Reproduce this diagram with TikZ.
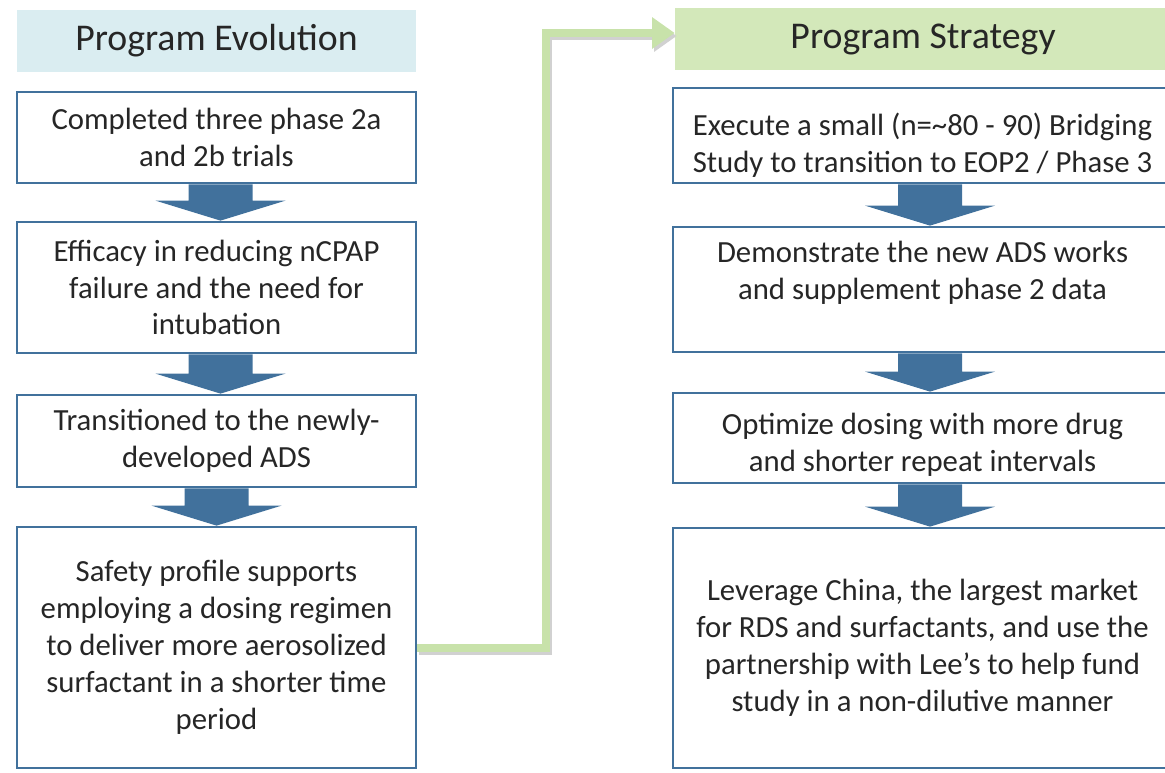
\documentclass[tikz,border=0pt]{standalone}
\usepackage{fontspec}
\setmainfont{Carlito}
\usetikzlibrary{arrows.meta,calc}

\definecolor{boxblue}{RGB}{65,113,156}
\definecolor{headblue}{RGB}{218,237,241}
\definecolor{headgreen}{RGB}{211,232,186}
\definecolor{linkgreen}{RGB}{200,226,170}
\definecolor{txtgray}{RGB}{38,38,38}

\tikzset{
  steptext/.style={text=txtgray, align=center, font=\fontsize{17.5}{21}\selectfont, inner sep=0pt},
  stepbox/.style={draw=boxblue, line width=1.6pt, fill=white, steptext},
  stratbox/.style={draw=boxblue, line width=1.6pt, fill=white, minimum width=10.6cm, inner sep=0pt},
  headbox/.style={fill=#1, text=txtgray, font=\fontsize{21.5}{26}\selectfont,
    minimum height=1.24cm, inner sep=0pt},
  blockarrow/.style={fill=boxblue},
  greenlink/.style={draw=linkgreen, line width=0.16cm, -{Triangle[length=0.45cm,width=0.6cm]}},
  linkshadow/.style={draw=black!18, line width=0.16cm, -{Triangle[length=0.45cm,width=0.6cm]},
    transform canvas={shift={(0.04cm,-0.06cm)}}}
}

\begin{document}
\begin{tikzpicture}[x=0.02cm,y=-0.02cm]
\useasboundingbox (0,0) rectangle (1165,772);

% headers
\node[headbox=headblue, minimum width=7.98cm] (h1) at (216.5,41) {Program Evolution};
\node[headbox=headgreen, minimum width=10.6cm,
  label={[text=txtgray, font=\fontsize{21.5}{26}\selectfont, xshift=-0.34cm]center:Program Strategy}]
  (h2) at (940,39) {};

% left column
\node[stepbox, minimum width=7.98cm, minimum height=1.82cm] (e1) at (216.5,137.5)
  {Completed three phase 2a\\ and 2b trials};
\node[stepbox, minimum width=7.98cm, minimum height=2.62cm] (e2) at (216.5,287.5)
  {Efficacy in reducing nCPAP\\ failure and the need for\\ intubation};
\node[stepbox, minimum width=7.98cm, minimum height=1.84cm] (e3) at (216.5,441)
  {Transitioned to the newly-\\ developed ADS};
\node[stepbox, minimum width=7.98cm, minimum height=4.82cm] (e4) at (216.5,647.5)
  {Safety profile supports\\ employing a dosing regimen\\ to deliver more aerosolized\\ surfactant in a shorter time\\ period};

% right column (boxes run off the right edge)
\node[stratbox, minimum height=1.9cm,
  label={[steptext, xshift=-0.31cm, yshift=-0.2cm]center:{Execute a small (n=\textasciitilde80 - 90) Bridging\\ Study to transition to EOP2 / Phase 3}}]
  (s1) at (938,135.5) {};
\node[stratbox, minimum height=2.5cm,
  label={[steptext, xshift=-0.31cm, yshift=0.33cm]center:{Demonstrate the new ADS works\\ and supplement phase 2 data}}]
  (s2) at (938,289.5) {};
\node[stratbox, minimum height=1.8cm,
  label={[steptext, xshift=-0.31cm, yshift=-0.14cm]center:{Optimize dosing with more drug\\ and shorter repeat intervals}}]
  (s3) at (938,438) {};
\node[stratbox, minimum height=4.8cm,
  label={[steptext, xshift=-0.31cm]center:{Leverage China, the largest market\\ for RDS and surfactants, and use the\\ partnership with Lee’s to help fund\\ study in a non-dilutive manner}}]
  (s4) at (938,648) {};

% block arrows between steps
\foreach \a/\b/\dx in {e1/e2/4,e2/e3/4,e3/e4/0,s1/s2/-8,s2/s3/-8,s3/s4/-8}
  \fill[blockarrow] ($(\a.south)+(-32+\dx,0)$) -- ($(\a.south)+(32+\dx,0)$)
    -- ($(\b.north)+(32+\dx,-20)$) -- ($(\b.north)+(65+\dx,-20)$) -- ($(\b.north)+(\dx,0)$)
    -- ($(\b.north)+(-65+\dx,-20)$) -- ($(\b.north)+(-32+\dx,-20)$) -- cycle;

% link from evolution to strategy
\draw[linkshadow] (e4.east) -- ++(129,0) |- ($(h2.west)+(0,-6)$);
\draw[greenlink] (e4.east) -- ++(129,0) |- ($(h2.west)+(0,-6)$);
\end{tikzpicture}
\end{document}
